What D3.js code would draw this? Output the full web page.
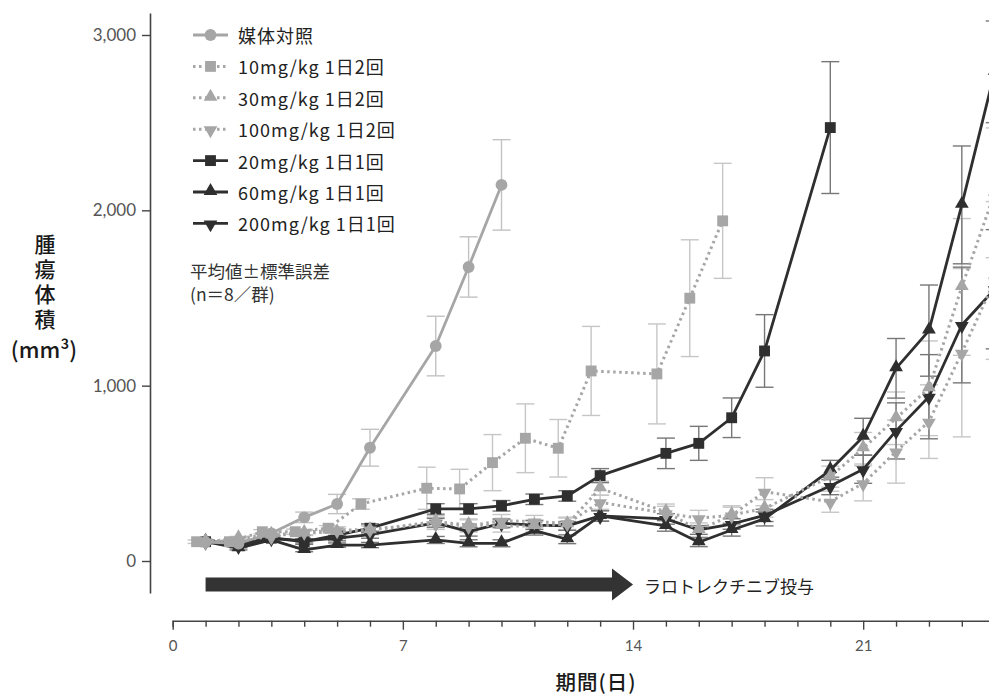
<!DOCTYPE html>
<html><head><meta charset="utf-8">
<script src="https://cdn.jsdelivr.net/npm/d3@7"></script>
<style>
html,body{margin:0;padding:0;background:#fff;}
svg{display:block;}
text{font-family:"Noto Sans CJK JP","Noto Sans",sans-serif;}
</style></head>
<body>
<svg id="c" width="989" height="698"></svg>
<script>
// ---------- data ----------
const seriesNames = ["媒体対照","10mg/kg 1日2回","30mg/kg 1日2回","100mg/kg 1日2回","20mg/kg 1日1回","60mg/kg 1日1回","200mg/kg 1日1回"];

const vehicleDays = [1,2,3,4,5,6,8,9,10];
const vehicleMean = [108,100,158,249,325,646,1226,1677,2145];
const vehicleSE   = [8,10,15,30,55,105,170,172,258];

const bid10Days = [1,2,3,4,5,6,8,9,10,11,12,13,15,16,17];
const bid10Mean = [110,110,167,167,187,325,415,411,561,700,643,1084,1067,1499,1940];
const bid10SE   = [10,10,12,15,15,30,120,112,160,196,164,254,285,333,328];

const fullDays = [1,2,3,4,5,6,8,9,10,11,12,13,15,16,17,18,20,21,22,23,24,25];
const bid30Mean = [110,130,150,160,165,175,225,205,200,200,210,415,280,177,262,300,481,643,814,985,1563,2100];
const bid30SE   = [8,10,15,15,20,25,35,35,35,35,35,40,45,40,45,50,60,90,150,270,390,370];
const bid100Mean = [110,115,140,165,175,180,215,200,230,225,215,335,272,244,260,395,338,443,624,795,1188,1600];
const bid100SE   = [8,10,12,15,20,25,35,35,35,35,35,40,40,45,55,80,60,100,180,210,480,450];

const qd20Days = [1,2,3,4,5,6,8,9,10,11,12,13,15,16,17,18,20];
const qd20Mean = [110,105,130,110,148,187,297,297,315,352,371,487,614,671,817,1198,2472];
const qd20SE   = [8,10,15,15,20,25,30,30,30,30,30,40,87,97,113,207,376];

const qd60Mean = [110,73,120,63,91,91,120,101,101,173,124,257,200,107,177,240,519,709,1099,1314,2031,2790];
const qd60SE   = [8,10,12,10,12,15,20,20,20,25,25,30,30,25,35,40,55,105,170,260,336,290];
const qd200Mean = [110,85,130,115,130,150,218,167,215,205,200,257,240,177,211,260,428,523,742,937,1346,1550];
const qd200SE   = [8,10,12,12,15,20,25,25,25,25,25,30,30,25,30,35,50,80,160,240,330,340];

const xTicks = d3.range(0, 26);
const xTickLabels = [0,7,14,21];
const yTicks = [0,1000,2000,3000];
const dosingPeriod = [1,14];
const dosingLabel = "ラロトレクチニブ投与";
const noteLines = ["平均値±標準誤差","(n＝8／群)"];
const yTitleMain = "腫瘍体積";
const yTitleUnit = "(mm³)";
const xTitle = "期間(日)";

// ---------- styles ----------
const GRAY = "#a6a6a6", BLACK = "#2f2f2f";
const styles = [
  {color:GRAY, dash:null, symbol:"circle", err:"#c2c2c2", dx:0},
  {color:GRAY, dash:"2.5,3.5", symbol:"square", err:"#c6c6c6", dx:-9},
  {color:GRAY, dash:"2.5,3.5", symbol:"up", err:"#c6c6c6", dx:0},
  {color:GRAY, dash:"2.5,3.5", symbol:"down", err:"#c6c6c6", dx:0},
  {color:BLACK, dash:null, symbol:"square", err:"#777", dx:0},
  {color:BLACK, dash:null, symbol:"up", err:"#777", dx:0},
  {color:BLACK, dash:null, symbol:"down", err:"#777", dx:0}
];
const seriesData = [
  [vehicleDays, vehicleMean, vehicleSE],
  [bid10Days, bid10Mean, bid10SE],
  [fullDays, bid30Mean, bid30SE],
  [fullDays, bid100Mean, bid100SE],
  [qd20Days, qd20Mean, qd20SE],
  [fullDays, qd60Mean, qd60SE],
  [fullDays, qd200Mean, qd200SE]
].map(([d,m,s]) => d.map((day,i)=>({day, v:m[i], se:s[i]})));

// ---------- scales ----------
const svg = d3.select("#c");
svg.append("rect").attr("width",989).attr("height",698).attr("fill","#fff");
const x = d3.scaleLinear().domain([0,25]).range([172.7, 994.7]);
const y = d3.scaleLinear().domain([0,3000]).range([561, 35]);
const yAxisScale = y.copy().domain([-183, 3126]).range([y(-183), y(3126)]);

// y axis
const gy = svg.append("g").attr("transform","translate(150,0)")
  .call(d3.axisLeft(yAxisScale).tickValues(yTicks).tickSize(8).tickSizeOuter(0).tickPadding(6)
        .tickFormat(d3.format(",")));
gy.select(".domain").attr("stroke","#444").attr("stroke-width",1.6);
gy.selectAll(".tick line").attr("stroke","#444").attr("stroke-width",1.4);
gy.selectAll(".tick text").attr("fill","#555").attr("font-size",17)
  .style("font-family","Lato, 'Open Sans', sans-serif").style("font-weight",400);

// x axis
const gx = svg.append("g").attr("transform","translate(0,620.7)")
  .call(d3.axisBottom(x).tickValues(xTicks).tickSizeOuter(0).tickSize(6).tickPadding(8)
        .tickFormat(d => xTickLabels.includes(d) ? d : ""));
gx.select(".domain").attr("stroke","#444").attr("stroke-width",1.6);
gx.selectAll(".tick line").attr("stroke","#444").attr("stroke-width",1.4)
  .attr("y2", d => xTickLabels.includes(d) ? 9 : 6);
gx.selectAll(".tick text").attr("fill","#555").attr("font-size",15).attr("dy","1.1em")
  .style("font-family","Lato, 'Open Sans', sans-serif").style("font-weight",400);

// axis titles
svg.append("text").attr("x",45).attr("y",234)
  .style("writing-mode","vertical-rl").attr("letter-spacing",4)
  .attr("font-size",21).attr("font-weight",500).attr("fill","#1a1a1a").text(yTitleMain);
svg.append("text").attr("x",44).attr("y",348).attr("text-anchor","middle").attr("dominant-baseline","central")
  .attr("font-size",22).attr("font-weight",500).attr("fill","#1a1a1a").text(yTitleUnit);
svg.append("text").attr("x",596).attr("y",681).attr("text-anchor","middle").attr("dominant-baseline","central")
  .attr("font-size",20.5).attr("font-weight",500).attr("fill","#1a1a1a").attr("letter-spacing",1).text(xTitle);

// dosing arrow
const ax0 = x(dosingPeriod[0]), ax1 = x(dosingPeriod[1]);
svg.append("path").attr("fill","#333")
  .attr("d", `M${ax0},577.5 L${ax1-21},577.5 L${ax1-21},568.5 L${ax1},584.5 L${ax1-21},600.5 L${ax1-21},591.5 L${ax0},591.5 Z`);
svg.append("text").attr("x",ax1+11).attr("y",585).attr("dominant-baseline","central")
  .attr("font-size",17).attr("fill","#222").text(dosingLabel);

// symbols
function symPath(kind){
  if(kind==="circle") return d3.symbol(d3.symbolCircle, 110)();
  if(kind==="square") return d3.symbol(d3.symbolSquare, 118)();
  return d3.symbol(d3.symbolTriangle, 82)();
}
function symTransform(kind, px, py){
  if(kind==="down") return `translate(${px},${py+1}) rotate(180)`;
  if(kind==="up") return `translate(${px},${py-1})`;
  return `translate(${px},${py})`;
}

// error bars (behind)
const errG = svg.append("g");
seriesData.forEach((data, si) => {
  const st = styles[si];
  const g = errG.append("g").attr("stroke",st.err).attr("stroke-width",1.4).attr("fill","none");
  data.forEach(d => {
    const px = x(d.day)+st.dx, y1 = y(d.v+d.se), y2 = y(d.v-d.se);
    g.append("line").attr("x1",px).attr("x2",px).attr("y1",y1).attr("y2",y2);
    g.append("line").attr("x1",px-9).attr("x2",px+9).attr("y1",y1).attr("y2",y1);
    g.append("line").attr("x1",px-9).attr("x2",px+9).attr("y1",y2).attr("y2",y2);
  });
});

// lines + markers
const drawOrder = [4,5,6,0,1,2,3];
drawOrder.forEach(si => {
  const st = styles[si], data = seriesData[si];
  const line = d3.line().x(d=>x(d.day)+st.dx).y(d=>y(d.v));
  svg.append("path").datum(data).attr("d",line).attr("fill","none")
    .attr("stroke",st.color).attr("stroke-width", st.dash ? 3 : 2.8)
    .attr("stroke-dasharray", st.dash).attr("stroke-linejoin","round");
  svg.append("g").selectAll("path").data(data).join("path")
    .attr("d", symPath(st.symbol)).attr("fill",st.color)
    .attr("transform", d => symTransform(st.symbol, x(d.day)+st.dx, y(d.v)));
});

// legend
const leg = svg.append("g");
seriesNames.forEach((name, i) => {
  const st = styles[i], cy = 35 + i*31.4;
  leg.append("line").attr("x1",193).attr("x2",228).attr("y1",cy).attr("y2",cy)
    .attr("stroke",st.color).attr("stroke-width", st.dash ? 3 : 2.8).attr("stroke-dasharray", st.dash);
  leg.append("path").attr("d",symPath(st.symbol)).attr("fill",st.color)
    .attr("transform",symTransform(st.symbol,210.5,cy));
  leg.append("text").attr("x",238).attr("y",cy).attr("dominant-baseline","central")
    .attr("font-size",18).attr("letter-spacing",1).attr("fill","#222").text(name);
});
leg.append("g").selectAll("text").data(noteLines).join("text")
  .attr("x",190).attr("y",(d,i)=>270+i*23).attr("dominant-baseline","central")
  .attr("font-size",17.5).attr("fill","#333").text(d=>d);
</script>
</body></html>
